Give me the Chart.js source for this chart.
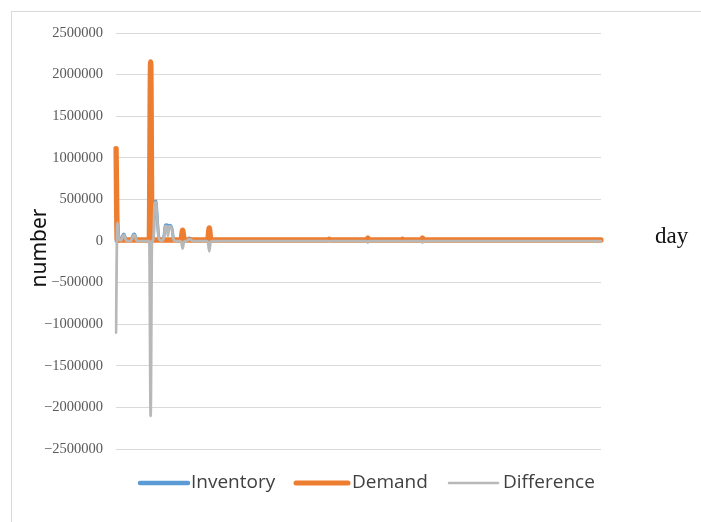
<!DOCTYPE html>
<html>
<head>
<meta charset="utf-8">
<script src="https://cdn.jsdelivr.net/npm/chart.js@4/dist/chart.umd.min.js"></script>
<style>
  html, body { margin: 0; padding: 0; background: #ffffff; }
  #wrap { position: relative; width: 701px; height: 522px; overflow: hidden; }
  #frame { position: absolute; left: 11px; top: 11px; width: 720px; height: 540px;
           border-left: 1px solid #d9d9d9; border-top: 1px solid #d9d9d9; box-sizing: border-box; }
  canvas { position: absolute; left: 0; top: 0; }
</style>
</head>
<body>
<div id="wrap">
  <div id="frame"></div>
  <canvas id="c" width="701" height="522"></canvas>
</div>
<script>
// Daily stock figures (365 days)
const inventory = [
  0,230000,60000,20000,25000,70000,85000,40000,15000,12000,
  10000,12000,40000,80000,85000,35000,12000,10000,10000,11000,
  10000,10000,9000,10000,10000,11000,47000,15000,12000,470000,
  480000,260000,60000,20000,15000,20000,60000,190000,195000,180000,
  190000,185000,150000,40000,15000,12000,12000,11000,12000,12000,
  40000,15000,12000,12000,25000,35000,30000,15000,12000,10000,
  10000,11000,10000,10000,10000,12000,10000,10000,10000,11000,
  30000,12000,10000,10000,10000,10000,11000,10000,10000,10000,
  10000,10000,10000,10000,10000,10000,10000,10000,10000,10000,
  10000,10000,10000,11000,10000,10000,10000,10000,10000,10000,
  10000,10000,10000,10000,10000,10000,10000,10000,10000,10000,
  10000,10000,10000,10000,10000,10000,10000,10000,10000,10000,
  10000,10000,10000,10000,10000,10000,10000,10000,10000,10000,
  10000,10000,10000,10000,10000,10000,10000,10000,10000,10000,
  10000,10000,10000,10000,10000,10000,10000,10000,10000,10000,
  10000,10000,10000,10000,10000,10000,10000,10000,10000,10000,
  14000,10000,10000,10000,10000,10000,10000,10000,10000,10000,
  10000,10000,10000,10000,10000,10000,10000,10000,10000,10000,
  10000,10000,10000,10000,10000,10000,10000,10000,10000,15000,
  10000,10000,10000,10000,10000,10000,10000,10000,10000,10000,
  10000,10000,10000,10000,10000,10000,10000,10000,10000,10000,
  10000,10000,10000,10000,10000,13000,10000,10000,10000,10000,
  10000,10000,10000,10000,10000,10000,10000,10000,10000,10000,
  15000,10000,10000,10000,10000,10000,10000,10000,10000,10000,
  10000,10000,10000,10000,10000,10000,10000,10000,10000,10000,
  10000,10000,10000,10000,10000,10000,10000,10000,10000,10000,
  10000,10000,10000,10000,10000,10000,10000,10000,10000,10000,
  10000,10000,10000,10000,10000,10000,10000,10000,10000,10000,
  10000,10000,10000,10000,10000,10000,10000,10000,10000,10000,
  10000,10000,10000,10000,10000,10000,10000,10000,10000,10000,
  10000,10000,12000,10000,10000,10000,10000,10000,10000,10000,
  10000,10000,10000,10000,10000,10000,10000,10000,10000,10000,
  10000,10000,10000,10000,10000,10000,10000,10000,10000,10000,
  10000,10000,10000,10000,10000,10000,10000,10000,10000,10000,
  10000,10000,10000,10000,10000,10000,10000,10000,10000,10000,
  10000,10000,10000,10000,10000,10000,10000,10000,10000,10000,
  10000,10000,10000,10000,10000
];

const demand = [
  1110000,10000,10000,12000,12000,12000,12000,12000,12000,12000,
  12000,12000,12000,12000,12000,12000,12000,12000,12000,12000,
  12000,12000,12000,12000,12000,12000,2150000,12000,12000,12000,
  12000,12000,12000,12000,12000,12000,12000,12000,12000,12000,
  12000,12000,12000,12000,12000,12000,12000,12000,12000,25000,
  130000,25000,12000,12000,12000,12000,12000,12000,12000,12000,
  12000,12000,12000,12000,12000,12000,12000,12000,12000,25000,
  155000,25000,12000,12000,12000,12000,12000,12000,12000,12000,
  12000,12000,12000,12000,12000,12000,12000,12000,12000,12000,
  12000,12000,12000,12000,12000,12000,12000,12000,12000,12000,
  12000,12000,12000,12000,12000,12000,12000,12000,12000,12000,
  12000,12000,12000,12000,12000,12000,12000,12000,12000,12000,
  12000,12000,12000,12000,12000,12000,12000,12000,12000,12000,
  12000,12000,12000,12000,12000,12000,12000,12000,12000,12000,
  12000,12000,12000,12000,12000,12000,12000,12000,12000,12000,
  12000,12000,12000,12000,12000,12000,12000,12000,12000,12000,
  20000,12000,12000,12000,12000,12000,12000,12000,12000,12000,
  12000,12000,12000,12000,12000,12000,12000,12000,12000,12000,
  12000,12000,12000,12000,12000,12000,12000,12000,12000,35000,
  12000,12000,12000,12000,12000,12000,12000,12000,12000,12000,
  12000,12000,12000,12000,12000,12000,12000,12000,12000,12000,
  12000,12000,12000,12000,12000,20000,12000,12000,12000,12000,
  12000,12000,12000,12000,12000,12000,12000,12000,12000,12000,
  35000,12000,12000,12000,12000,12000,12000,12000,12000,12000,
  12000,12000,12000,12000,12000,12000,12000,12000,12000,12000,
  12000,12000,12000,12000,12000,12000,12000,12000,12000,12000,
  12000,12000,12000,12000,12000,12000,12000,12000,12000,12000,
  12000,12000,12000,12000,12000,12000,12000,12000,12000,12000,
  12000,12000,12000,12000,12000,12000,12000,12000,12000,12000,
  12000,12000,12000,12000,12000,12000,12000,12000,12000,12000,
  12000,12000,12000,12000,12000,12000,12000,12000,12000,12000,
  12000,12000,12000,12000,12000,12000,12000,12000,12000,12000,
  12000,12000,12000,12000,12000,12000,12000,12000,12000,12000,
  12000,12000,12000,12000,12000,12000,12000,12000,12000,12000,
  12000,12000,12000,12000,12000,12000,12000,12000,12000,12000,
  12000,12000,12000,12000,12000,12000,12000,12000,12000,12000,
  12000,12000,12000,12000,12000
];

const difference = [
  -1100000,220000,50000,8000,13000,58000,73000,28000,3000,0,
  -2000,0,28000,68000,73000,23000,0,-2000,-2000,-1000,
  -2000,-2000,-3000,-2000,-2000,-1000,-2103000,3000,0,458000,
  468000,248000,48000,8000,3000,8000,48000,178000,183000,60000,
  178000,173000,138000,28000,3000,0,0,-1000,0,-13000,
  -90000,-10000,0,0,13000,23000,18000,3000,0,-2000,
  -2000,-1000,-2000,-2000,-2000,0,-2000,-2000,-2000,-14000,
  -125000,-13000,-2000,-2000,-2000,-2000,-1000,-2000,-2000,-2000,
  -2000,-2000,-2000,-2000,-2000,-2000,-2000,-2000,-2000,-2000,
  -2000,-2000,-2000,-1000,-2000,-2000,-2000,-2000,-2000,-2000,
  -2000,-2000,-2000,-2000,-2000,-2000,-2000,-2000,-2000,-2000,
  -2000,-2000,-2000,-2000,-2000,-2000,-2000,-2000,-2000,-2000,
  -2000,-2000,-2000,-2000,-2000,-2000,-2000,-2000,-2000,-2000,
  -2000,-2000,-2000,-2000,-2000,-2000,-2000,-2000,-2000,-2000,
  -2000,-2000,-2000,-2000,-2000,-2000,-2000,-2000,-2000,-2000,
  -2000,-2000,-2000,-2000,-2000,-2000,-2000,-2000,-2000,-2000,
  -6000,-2000,-2000,-2000,-2000,-2000,-2000,-2000,-2000,-2000,
  -2000,-2000,-2000,-2000,-2000,-2000,-2000,-2000,-2000,-2000,
  -2000,-2000,-2000,-2000,-2000,-2000,-2000,-2000,-2000,-20000,
  -2000,-2000,-2000,-2000,-2000,-2000,-2000,-2000,-2000,-2000,
  -2000,-2000,-2000,-2000,-2000,-2000,-2000,-2000,-2000,-2000,
  -2000,-2000,-2000,-2000,-2000,-7000,-2000,-2000,-2000,-2000,
  -2000,-2000,-2000,-2000,-2000,-2000,-2000,-2000,-2000,-2000,
  -20000,-2000,-2000,-2000,-2000,-2000,-2000,-2000,-2000,-2000,
  -2000,-2000,-2000,-2000,-2000,-2000,-2000,-2000,-2000,-2000,
  -2000,-2000,-2000,-2000,-2000,-2000,-2000,-2000,-2000,-2000,
  -2000,-2000,-2000,-2000,-2000,-2000,-2000,-2000,-2000,-2000,
  -2000,-2000,-2000,-2000,-2000,-2000,-2000,-2000,-2000,-2000,
  -2000,-2000,-2000,-2000,-2000,-2000,-2000,-2000,-2000,-2000,
  -2000,-2000,-2000,-2000,-2000,-2000,-2000,-2000,-2000,-2000,
  -2000,-2000,0,-2000,-2000,-2000,-2000,-2000,-2000,-2000,
  -2000,-2000,-2000,-2000,-2000,-2000,-2000,-2000,-2000,-2000,
  -2000,-2000,-2000,-2000,-2000,-2000,-2000,-2000,-2000,-2000,
  -2000,-2000,-2000,-2000,-2000,-2000,-2000,-2000,-2000,-2000,
  -2000,-2000,-2000,-2000,-2000,-2000,-2000,-2000,-2000,-2000,
  -2000,-2000,-2000,-2000,-2000,-2000,-2000,-2000,-2000,-2000,
  -2000,-2000,-2000,-2000,-2000
];

const days = inventory.map((_, i) => String(i + 1));
const seriesNames = ['Inventory', 'Demand', 'Difference'];
const seriesColors = ['#5b9bd5', '#ed7d31', '#b8b8b8'];
const yTicks = [-2500000, -2000000, -1500000, -1000000, -500000, 0, 500000, 1000000, 1500000, 2000000, 2500000];

// Axis captions and the legend row under the plot
const decorations = {
  id: 'decorations',
  afterDraw(chart) {
    const ctx = chart.ctx;
    ctx.save();
    // vertical caption
    ctx.fillStyle = '#111111';
    ctx.font = '21px "Noto Sans"';
    ctx.textAlign = 'center';
    ctx.textBaseline = 'middle';
    ctx.translate(40, 248);
    ctx.rotate(-Math.PI / 2);
    ctx.fillText('number', 0, 0);
    ctx.restore();

    ctx.save();
    ctx.fillStyle = '#111111';
    ctx.font = '23px "Liberation Serif"';
    ctx.textAlign = 'left';
    ctx.textBaseline = 'middle';
    ctx.fillText('day', 655, 237);
    ctx.restore();

    // legend
    const items = [
      { x0: 140, x1: 188, tx: 191, w: 4.5 },
      { x0: 296, x1: 348, tx: 352, w: 5 },
      { x0: 449, x1: 498, tx: 503, w: 2.5 }
    ];
    const y = 483;
    ctx.save();
    ctx.font = '19px "Open Sans"';
    ctx.textBaseline = 'middle';
    ctx.textAlign = 'left';
    chart.data.datasets.forEach((ds, i) => {
      const it = items[i];
      ctx.strokeStyle = ds.borderColor;
      ctx.lineWidth = it.w;
      ctx.lineCap = 'round';
      ctx.beginPath();
      ctx.moveTo(it.x0, y);
      ctx.lineTo(it.x1, y);
      ctx.stroke();
      ctx.fillStyle = '#404040';
      ctx.fillText(ds.label, it.tx, y);
    });
    ctx.restore();
  }
};

new Chart(document.getElementById('c'), {
  type: 'line',
  data: {
    labels: days,
    datasets: [
      { label: seriesNames[0], data: inventory, borderColor: seriesColors[0], backgroundColor: seriesColors[0], borderWidth: 3, order: 3 },
      { label: seriesNames[1], data: demand, borderColor: seriesColors[1], backgroundColor: seriesColors[1], borderWidth: 5.5, order: 2 },
      { label: seriesNames[2], data: difference, borderColor: seriesColors[2], backgroundColor: seriesColors[2], borderWidth: 2.75, order: 1 }
    ]
  },
  options: {
    responsive: false,
    animation: false,
    devicePixelRatio: 1,
    layout: { padding: { left: 0, top: 33, right: 100, bottom: 73 } },
    elements: {
      point: { radius: 0, hoverRadius: 0 },
      line: { cubicInterpolationMode: 'monotone', borderJoinStyle: 'round', borderCapStyle: 'round', fill: false }
    },
    plugins: { legend: { display: false }, tooltip: { enabled: false } },
    scales: {
      x: { display: false, offset: false },
      y: {
        min: yTicks[0],
        max: yTicks[yTicks.length - 1],
        afterBuildTicks(scale) { scale.ticks = yTicks.map(v => ({ value: v })); },
        afterFit(scale) { scale.width = 116; },
        border: { display: false },
        grid: { color: '#d9d9d9', lineWidth: 1, drawTicks: false },
        ticks: {
          padding: 13,
          color: '#595959',
          font: { family: '"Liberation Serif"', size: 14.5 },
          callback: v => (v < 0 ? '\u2212' + Math.abs(v) : String(v))
        }
      }
    }
  },
  plugins: [decorations]
});
</script>
</body>
</html>
